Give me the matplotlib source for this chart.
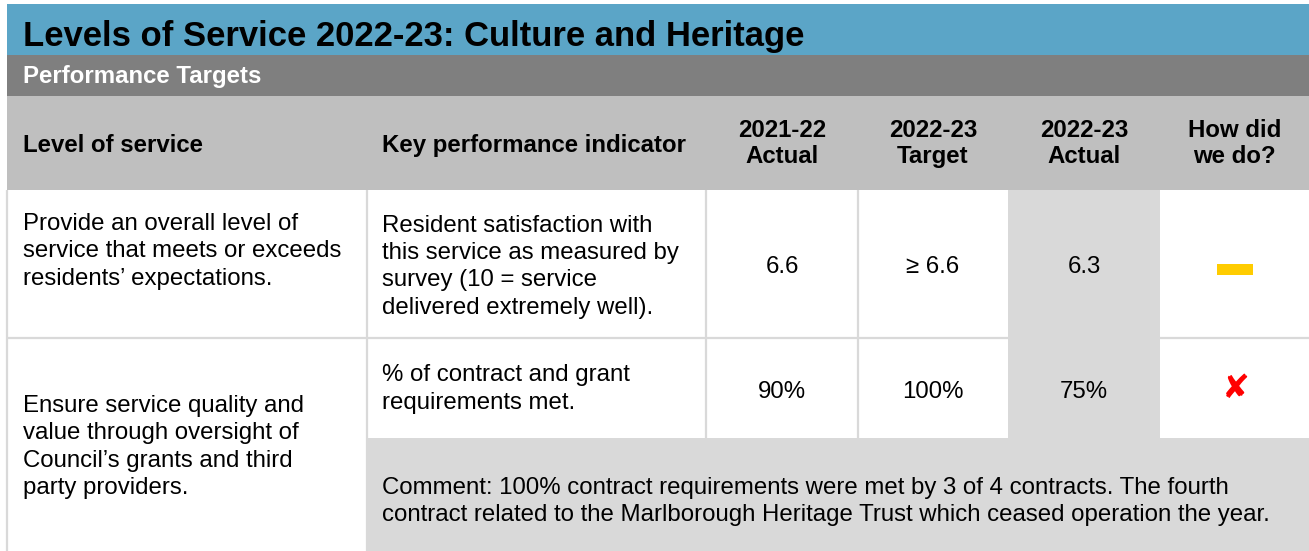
import matplotlib
matplotlib.use("Agg")
import matplotlib.pyplot as plt
from matplotlib.patches import Rectangle

# table content
title = "Levels of Service 2022-23: Culture and Heritage"
subtitle = "Performance Targets"
headers = ["Level of service", "Key performance indicator",
           "2021-22\nActual", "2022-23\nTarget", "2022-23\nActual", "How did\nwe do?"]
levels = [["Provide an overall level of", "service that meets or exceeds",
           "residents\u2019 expectations."],
          ["Ensure service quality and", "value through oversight of",
           "Council\u2019s grants and third", "party providers."]]
kpis = [["Resident satisfaction with", "this service as measured by",
         "survey (10 = service", "delivered extremely well)."],
        ["% of contract and grant", "requirements met."]]
actual_2122 = ["6.6", "90%"]
target_2223 = ["\u2265 6.6", "100%"]
actual_2223 = ["6.3", "75%"]
how_did = ["neutral", "fail"]
comment = ["Comment: 100% contract requirements were met by 3 of 4 contracts. The fourth",
           "contract related to the Marlborough Heritage Trust which ceased operation the year."]

BLUE = "#5ba5c7"
DARK = "#7f7f7f"
HEAD = "#bfbfbf"
LIGHT = "#d9d9d9"
FONT = ["Liberation Sans", "DejaVu Sans"]
BODY = 17.25

W, H = 1309, 551
fig = plt.figure(figsize=(W / 100, H / 100), dpi=100)
ax = fig.add_axes([0, 0, 1, 1])
ax.set_xlim(0, W)
ax.set_ylim(H, 0)
ax.axis("off")

# column edges and row edges in pixels
cols = [7, 367, 706, 858, 1008, 1160, W]
row1_top, row1_bot, row2_mid = 190, 338, 438

def box(x0, y0, x1, y1, color):
    ax.add_patch(Rectangle((x0, y0), x1 - x0, y1 - y0, facecolor=color,
                           edgecolor="none", zorder=1))

def line(xs, ys):
    ax.plot(xs, ys, color=LIGHT, lw=1.6, zorder=2, solid_capstyle="butt")

# bands
box(7, 4, W, 55, BLUE)
box(7, 55, W, 96, DARK)
box(7, 96, W, row1_top, HEAD)
box(cols[4], row1_top, cols[5], row2_mid, LIGHT)
box(cols[1], row2_mid, W, H, LIGHT)

# grid lines
line([cols[0], cols[0]], [row1_top, H])
line([cols[1], cols[1]], [row1_top, H])
for c in cols[2:4]:
    line([c, c], [row1_top, row2_mid])
line([cols[0], W], [row1_bot, row1_bot])

ax.text(23, 46, title, fontsize=24.9, fontweight="bold", family=FONT, color="black", zorder=3)
ax.text(23, 83, subtitle, fontsize=17.3, fontweight="bold", family=FONT, color="white", zorder=3)

# header
ax.text(23, 152, headers[0], fontsize=BODY, fontweight="bold", family=FONT, zorder=3)
ax.text(382, 152, headers[1], fontsize=BODY, fontweight="bold", family=FONT, zorder=3)
for i, h in enumerate(headers[2:]):
    cx = (cols[i + 2] + cols[i + 3]) / 2
    for j, part in enumerate(h.split("\n")):
        ax.text(cx, 136.7 + 26.7 * j, part, fontsize=BODY, fontweight="bold", family=FONT,
                ha="center", va="baseline", zorder=3)

# body text
pitch = 27.4
level_base = [230, 412]
kpi_base = [231.5, 381.5]
for r in range(2):
    for j, ln in enumerate(levels[r]):
        ax.text(23, level_base[r] + pitch * j, ln, fontsize=BODY, family=FONT,
                va="baseline", zorder=3)
    for j, ln in enumerate(kpis[r]):
        ax.text(382, kpi_base[r] + pitch * j, ln, fontsize=BODY, family=FONT,
                va="baseline", zorder=3)

value_base = [273, 398]
for r in range(2):
    for k, vals in enumerate([actual_2122, target_2223, actual_2223]):
        cx = (cols[k + 2] + cols[k + 3]) / 2
        ax.text(cx, value_base[r], vals[r], fontsize=BODY, family=FONT,
                ha="center", va="baseline", zorder=3)

# result symbols
cx = (cols[5] + cols[6]) / 2
for r, res in enumerate(how_did):
    if res == "neutral":
        ax.add_patch(Rectangle((cx - 18, 264), 36, 11, facecolor="#ffcc00",
                               edgecolor="none", zorder=3))
    else:
        ax.text(cx + 1, value_base[r] - 10, "\u2718", fontsize=24, family="DejaVu Sans",
                color="#ff0000", ha="center", va="center", zorder=3)

for j, ln in enumerate(comment):
    ax.text(382, 494 + pitch * j, ln, fontsize=BODY, family=FONT, va="baseline", zorder=3)

fig.savefig("out.png", dpi=100)
